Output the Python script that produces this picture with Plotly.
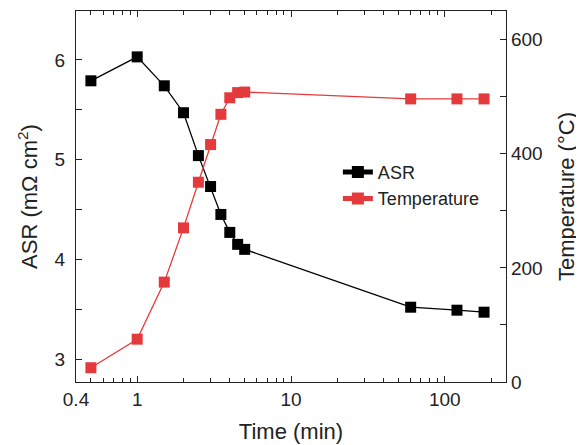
import plotly.graph_objects as go

time_min = [0.5, 1, 1.5, 2, 2.5, 3, 3.5, 4, 4.5, 5, 60, 120, 180]
asr = [5.79, 6.03, 5.74, 5.47, 5.04, 4.73, 4.45, 4.27, 4.15, 4.10, 3.52, 3.49, 3.47]
temperature = [25, 75, 175, 270, 350, 416, 469, 498, 507, 508, 496, 496, 496]

x_tickvals = [0.4, 1, 10, 100]
x_ticktext = ["0.4", "1", "10", "100"]
x_minor = [0.5, 0.6, 0.7, 0.8, 0.9, 2, 3, 4, 5, 6, 7, 8, 9,
           20, 30, 40, 50, 60, 70, 80, 90, 200]

RED = "#e53a3c"
FONT = "Arial, Liberation Sans, sans-serif"

fig = go.Figure()
fig.add_trace(go.Scatter(
    x=time_min, y=asr, name="ASR", mode="lines+markers",
    line=dict(color="#000000", width=1.3),
    marker=dict(symbol="square", size=11, color="#000000"),
))
fig.add_trace(go.Scatter(
    x=time_min, y=temperature, name="Temperature", mode="lines+markers",
    yaxis="y2",
    line=dict(color=RED, width=1.3),
    marker=dict(symbol="square", size=11, color=RED),
))

axis_common = dict(showline=True, linecolor="#222", linewidth=1.3,
                   ticks="inside", ticklen=6, tickcolor="#222",
                   showgrid=False, zeroline=False, automargin=False,
                   tickfont=dict(family=FONT, size=19, color="#222"))

# page body has an 8px default margin; figure sized to fit the window
fig.update_layout(
    width=576, height=437,
    margin=dict(l=68, r=78, t=3, b=62.5, autoexpand=False),
    paper_bgcolor="white", plot_bgcolor="white",
    font=dict(family=FONT, color="#222"),
    showlegend=True,
    legend=dict(x=0.609, y=0.615, xanchor="left", yanchor="top",
                bgcolor="rgba(0,0,0,0)", font=dict(family=FONT, size=18, color="#222"),
                tracegroupgap=0, itemsizing="constant"),
    xaxis=dict(type="log", range=[-0.39794, 2.398],
               tickvals=x_tickvals, ticktext=x_ticktext,
               mirror="ticks",
               minor=dict(tickvals=x_minor, ticks="inside", ticklen=3.5, tickcolor="#222"),
               title=dict(text="Time (min)", font=dict(family=FONT, size=22, color="#222"), standoff=14),
               **axis_common),
    yaxis=dict(range=[2.77, 6.49], tickvals=[3, 4, 5, 6], ticklabelstandoff=6,
               minor=dict(tickvals=[3.5, 4.5, 5.5], ticks="inside", ticklen=6, tickcolor="#222"),
               title=dict(text="ASR (mΩ cm<sup>2</sup>)", font=dict(family=FONT, size=22, color="#222"), standoff=10),
               **axis_common),
    yaxis2=dict(overlaying="y", side="right", range=[0, 650],
                tickvals=[0, 200, 400, 600],
                minor=dict(tickvals=[100, 300, 500], ticks="inside", ticklen=6, tickcolor="#222"),
                title=dict(text="Temperature (°C)", font=dict(family=FONT, size=22, color="#222"), standoff=16),
                **axis_common),
)

fig.write_html("out.html")
